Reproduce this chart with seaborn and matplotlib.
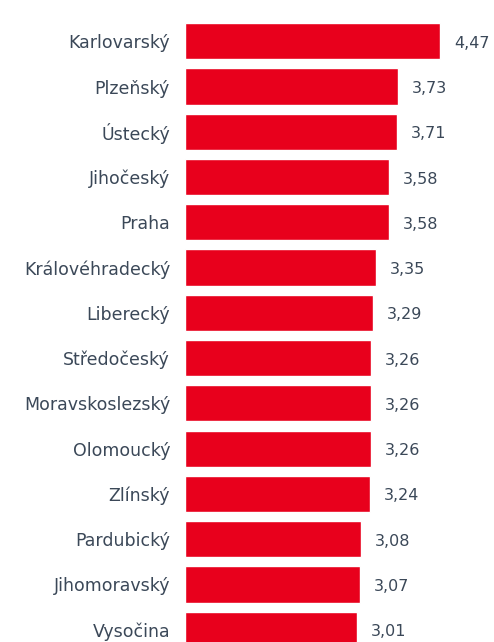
import matplotlib
matplotlib.use("Agg")
import matplotlib.pyplot as plt
import seaborn as sns
import pandas as pd

regions = ["Karlovarský", "Plzeňský", "Ústecký", "Jihočeský", "Praha",
           "Královéhradecký", "Liberecký", "Středočeský", "Moravskoslezský",
           "Olomoucký", "Zlínský", "Pardubický", "Jihomoravský", "Vysočina"]
values = [4.47, 3.73, 3.71, 3.58, 3.58, 3.35, 3.29, 3.26, 3.26, 3.26, 3.24,
          3.08, 3.07, 3.01]

df = pd.DataFrame({"region": regions, "value": values})

sns.set_theme(style="white")
plt.rcParams['font.family'] = ['DejaVu Sans']

W, H = 494, 642
fig = plt.figure(figsize=(W / 100, H / 100), dpi=100)
left_px = 185
ax = fig.add_axes([left_px / W, 0, (W - left_px) / W, 1])

sns.barplot(data=df, x="value", y="region", orient="h", color="#e8001c",
            saturation=1, width=0.8, ax=ax)

px_per_unit = (440 - left_px) / 4.47
ax.set_xlim(0, (W - left_px) / px_per_unit)
pitch = 45.26
first_center = 41.3
ax.set_ylim((H - first_center) / pitch, -first_center / pitch)

text_color = "#3b4858"
for i, v in enumerate(values):
    ax.text(v + 14 / px_per_unit, i + 2.0 / pitch, f"{v:.2f}".replace(".", ","),
            va="center", ha="left", fontsize=11.5, color=text_color)

ax.set_xlabel("")
ax.set_ylabel("")
ax.set_xticks([])
ax.tick_params(axis="y", length=0, pad=10.8, labelsize=12.5, labelcolor=text_color)
for s in ax.spines.values():
    s.set_visible(False)

fig.savefig("out.png", dpi=100)
